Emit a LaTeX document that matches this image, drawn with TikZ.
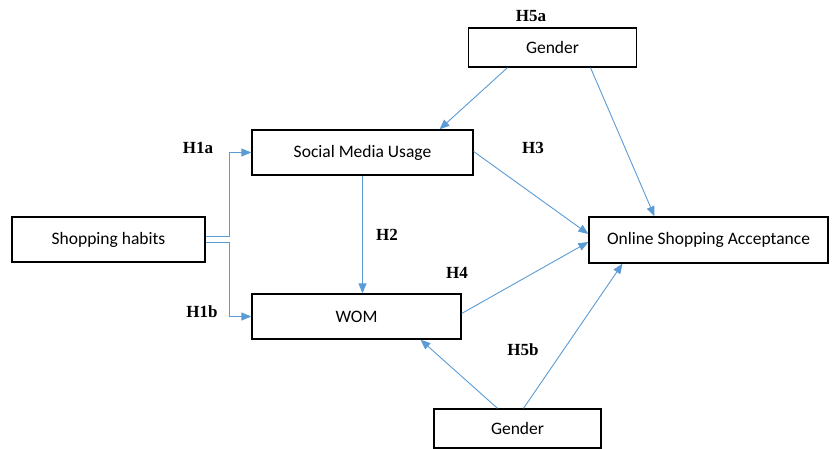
\documentclass[tikz,border=0pt]{standalone}
\usepackage{fontspec}
\setmainfont{Carlito}
\newfontfamily\hypfont{Liberation Serif}
\usetikzlibrary{arrows.meta}
\definecolor{linkblue}{RGB}{91,155,213}
\tikzset{
    box/.style={draw, line width=1.3pt, inner sep=0pt, minimum height=45pt,
    	font=\fontsize{17.5}{20}\selectfont},
    conn/.style={draw=linkblue, line width=0.9pt,
    	-{Triangle[length=10pt, width=8pt, fill=linkblue]}},
    hyp/.style={font=\hypfont\bfseries\fontsize{17}{19}\selectfont, inner sep=0pt}
}

\begin{document}
\begin{tikzpicture}[x=1pt, y=-1pt]
  \useasboundingbox (0,0) rectangle (832,449);

  \node (shop) [box, minimum width=193pt] at (108.5, 239.5) {Shopping habits};
  \node (smu) [box, minimum width=221pt] at (362.5, 152.5) {Social Media Usage};
  \node (wom) [box, minimum width=209pt] at (356.5, 316.5) {WOM};
  \node (gtop) [box, minimum width=168pt, minimum height=39pt] at (552.5, 47.5) {Gender};
  \node (gbot) [box, minimum width=167pt, minimum height=39pt] at (517.5, 428.5) {Gender};
  \node (osa) [box, minimum width=239pt, minimum height=46pt] at (708.5, 240) {Online Shopping Acceptance};

  \node (h1a) [hyp] at (198, 148) {H1a};
  \node (h1b) [hyp] at (202, 312) {H1b};
  \node (h2) [hyp] at (387, 235) {H2};
  \node (h3) [hyp] at (533, 148) {H3};
  \node (h4) [hyp] at (457, 273) {H4};
  \node (h5a) [hyp] at (531, 16) {H5a};
  \node (h5b) [hyp] at (523, 350) {H5b};

  \draw [conn] ([yshift=3pt]shop.east) -- ++(24,0) |- (smu.west);
  \draw [conn] ([yshift=-3pt]shop.east) -- ++(24,0) |- (wom.west);

  \draw [conn] (smu.south) -- (smu.south |- wom.north);

  \draw [conn] ([xshift=-45pt]gtop.south) -- ([xshift=77pt]smu.north);
  \draw [conn] ([xshift=38pt]gtop.south) -- ([xshift=-54pt]osa.north);

  \draw [conn] ([yshift=1pt]smu.east) -- ([yshift=6pt]osa.west);
  \draw [conn] ([yshift=3pt]wom.east) -- ([yshift=-2pt]osa.west);

  \draw [conn] ([xshift=-20pt]gbot.north) -- ([xshift=64pt]wom.south);
  \draw [conn] ([xshift=6pt]gbot.north) -- ([xshift=-86pt]osa.south);
\end{tikzpicture}
\end{document}
